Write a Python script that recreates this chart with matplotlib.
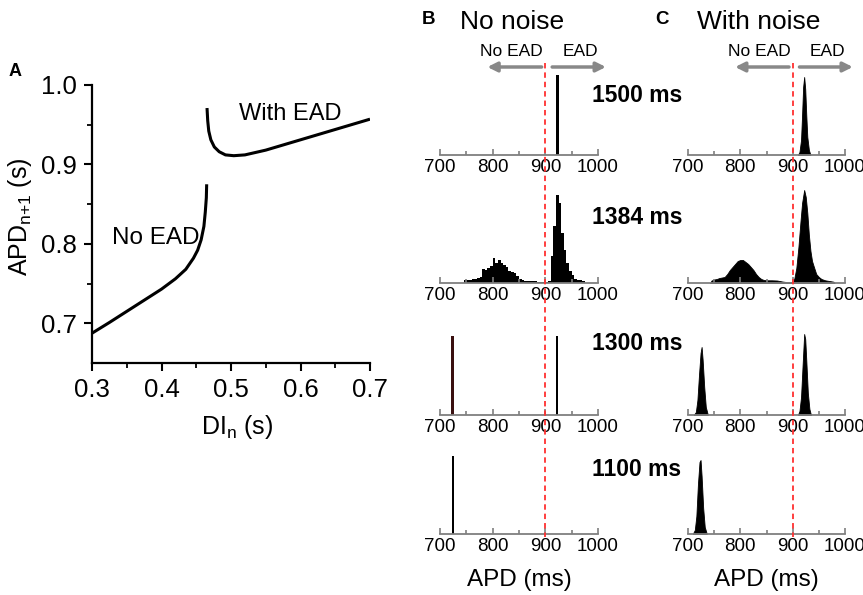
import numpy as np
import matplotlib
matplotlib.use("Agg")
import matplotlib.pyplot as plt

plt.rcParams['font.family'] = ['Liberation Sans', 'DejaVu Sans']
plt.rcParams['mathtext.default'] = 'regular'

W, H = 863, 595

# ---- panel A: APD restitution ----
di_no_ead = [0.300, 0.325, 0.350, 0.375, 0.400, 0.420, 0.435, 0.446, 0.452,
             0.457, 0.461, 0.463, 0.4645, 0.465]
apd_no_ead = [0.6875, 0.701, 0.715, 0.729, 0.743, 0.756, 0.768, 0.782, 0.792,
              0.805, 0.822, 0.840, 0.858, 0.875]
di_ead = [0.4655, 0.4665, 0.468, 0.471, 0.476, 0.483, 0.492, 0.504, 0.520,
          0.550, 0.600, 0.650, 0.700]
apd_ead = [0.971, 0.955, 0.942, 0.931, 0.922, 0.916, 0.912, 0.911, 0.912,
           0.918, 0.931, 0.944, 0.957]

# ---- panels B/C: APD histograms ----
pcl_labels = ['1500 ms', '1384 ms', '1300 ms', '1100 ms']

# B, no noise (spikes)
b1_x, b1_h = [923], [80]
b3_x, b3_h = [724, 922], [79, 79]
b4_x, b4_h = [725], [78]
# B, 1384 ms: 5 ms bins starting at 745
b2_start, b2_bin = 745, 5
b2_h = [3, 3.5, 3.5, 4, 4.5, 5, 6, 14, 13, 15, 17, 25, 20, 23, 20, 18, 16, 12,
        11, 10, 7, 4, 3, 2.5, 2.5, 2.5, 2, 2, 1.5, 1.5, 1, 1, 2, 27, 57, 88,
        80, 50, 33, 20, 12, 8, 4, 3, 3, 2]

# C, with noise
c1_x = [910, 913, 916, 918, 920, 922, 924, 926, 928, 931, 934]
c1_h = [0, 3, 15, 40, 68, 78, 66, 40, 18, 5, 0]
c2_x = [742, 745, 750, 755, 760, 765, 770, 775, 780, 785, 790, 795, 800, 805,
        810, 815, 820, 825, 830, 835, 840, 845, 850, 860, 870, 880, 890, 898,
        903, 907, 911, 915, 918, 922, 925, 928, 931, 934, 937, 940, 945, 950,
        955, 962, 970, 978, 980]
c2_h = [0, 2.5, 3.5, 4, 5, 5.5, 6, 9, 13, 16, 19, 22, 23, 23, 21, 19, 16, 13,
        9, 6, 4, 3, 2.7, 2.7, 2.5, 1.5, 0.8, 0.7, 4, 15, 36, 62, 80, 93, 86,
        70, 48, 32, 22, 17, 9, 6, 4, 2.7, 2, 1.3, 0]
c3_x = [711, 715, 718, 721, 724, 726, 728, 731, 734, 738,
        910, 913, 916, 919, 922, 924, 926, 929, 932, 935]
c3_h = [0, 3, 15, 40, 62, 68, 55, 28, 8, 0,
        0, 4, 18, 50, 81, 76, 55, 22, 6, 0]
c4_x = [709, 713, 716, 719, 722, 724, 726, 729, 732, 736]
c4_h = [0, 4, 18, 50, 72, 74, 58, 26, 7, 0]

apd_ticks = [700, 800, 900, 1000]
apd_minor = [750, 850, 950]

fig = plt.figure(figsize=(W / 100, H / 100), dpi=100)


def px_axes(left, top, right, bottom):
    return fig.add_axes([left / W, 1 - bottom / H, (right - left) / W, (bottom - top) / H])


def ftext(x, y, s, **kw):
    fig.text(x / W, 1 - y / H, s, **kw)


# panel A
axA = px_axes(92, 85, 370, 363)
axA.plot(di_no_ead, apd_no_ead, color='black', lw=2.2, solid_capstyle='butt')
axA.plot(di_ead, apd_ead, color='black', lw=2.2, solid_capstyle='butt')
axA.set_xlim(0.3, 0.7)
axA.set_ylim(0.65, 1.0)
axA.set_xticks([0.3, 0.4, 0.5, 0.6, 0.7])
axA.set_xticks([0.35, 0.45, 0.55, 0.65], minor=True)
axA.set_yticks([0.7, 0.8, 0.9, 1.0])
axA.set_yticks([0.75, 0.85, 0.95], minor=True)
axA.spines[['top', 'right']].set_visible(False)
for s in ['left', 'bottom']:
    axA.spines[s].set_linewidth(1.6)
axA.tick_params(which='major', direction='out', length=6, width=1.5, labelsize=18.5, pad=5)
axA.tick_params(which='minor', direction='out', length=3.5, width=1.3)
axA.text(0.329, 0.807, 'No EAD', fontsize=17.5, va='center', ha='left')
axA.text(0.585, 0.963, 'With EAD', fontsize=17, va='center', ha='center')
ftext(20, 217, 'APD$_{n{+}1}$ (s)', rotation=90, fontsize=18, ha='center', va='center')
ftext(237, 427, 'DI$_n$ (s)', fontsize=18, ha='center', va='center')
ftext(15, 72, 'A', fontsize=13, fontweight='bold', ha='center', va='center')

# panels B and C
cols = {'B': (440, 598), 'C': (688, 845)}
baselines = [155, 283, 415, 534]
label_y = [95, 217, 343, 470]


def hist_axes(col, row):
    left, right = cols[col]
    base = baselines[row]
    ax = px_axes(left, base - 95, right, base)
    ax.set_xlim(700, 1000)
    ax.set_ylim(0, 95)
    ax.set_xticks(apd_ticks)
    ax.set_xticks(apd_minor, minor=True)
    ax.set_yticks([])
    ax.spines[['top', 'right', 'left']].set_visible(False)
    ax.spines['bottom'].set_color('#7f7f7f')
    ax.spines['bottom'].set_linewidth(1.3)
    ax.tick_params(which='major', direction='in', length=4, width=1.2, color='#7f7f7f',
                   labelsize=13.5, pad=3)
    ax.tick_params(which='minor', direction='in', length=3, width=1.2, color='#7f7f7f')
    ax.patch.set_alpha(0)
    return ax


axB = [hist_axes('B', r) for r in range(4)]
axC = [hist_axes('C', r) for r in range(4)]

axB[0].bar(b1_x, b1_h, width=5, color='black')
b2_centers = b2_start + b2_bin / 2 + b2_bin * np.arange(len(b2_h))
axB[1].bar(b2_centers, b2_h, width=b2_bin, color='black', linewidth=0)
axB[2].bar(b3_x, b3_h, width=5, color=['#3a1010', 'black'])
axB[3].bar(b4_x, b4_h, width=5, color='black')

for ax, xs, hs in zip(axC, [c1_x, c2_x, c3_x, c4_x], [c1_h, c2_h, c3_h, c4_h]):
    xs = np.asarray(xs, float)
    hs = np.asarray(hs, float)
    # separate peaks at gaps so the fill does not bridge them
    breaks = np.where(np.diff(xs) > 40)[0] + 1
    for seg_x, seg_h in zip(np.split(xs, breaks), np.split(hs, breaks)):
        ax.fill_between(seg_x, 0, seg_h, color='black', linewidth=0.6, edgecolor='black')

for i, lab in enumerate(pcl_labels):
    ftext(637, label_y[i], lab, fontsize=16.5, fontweight='bold', ha='center', va='center')

# overlay per column: threshold line, arrows, titles
for col in ['B', 'C']:
    left, right = cols[col]
    ov = px_axes(left, 40, right, 540)
    ov.set_xlim(700, 1000)
    ov.set_ylim(540, 40)
    ov.axis('off')
    ov.vlines(900, 63, 537, color='#ff3030', linestyles=(0, (3, 2.2)), lw=1.3)
    ov.annotate('', xy=(790, 67), xytext=(893, 67),
                arrowprops=dict(arrowstyle='-|>', color='#888888', lw=2.5,
                                mutation_scale=14, shrinkA=0, shrinkB=0))
    ov.annotate('', xy=(1015, 67), xytext=(913, 67),
                arrowprops=dict(arrowstyle='-|>', color='#888888', lw=2.5,
                                mutation_scale=14, shrinkA=0, shrinkB=0),
                annotation_clip=False)
    ov.text(836, 51, 'No EAD', fontsize=12.5, ha='center', va='center')
    ov.text(967, 51, 'EAD', fontsize=12.5, ha='center', va='center')
    ftext((left + right) / 2, 580, 'APD (ms)', fontsize=17.5, ha='center', va='center')

ftext(428, 20, 'B', fontsize=13.5, fontweight='bold', ha='center', va='center')
ftext(460, 22, 'No noise', fontsize=19, ha='left', va='center')
ftext(662, 20, 'C', fontsize=13.5, fontweight='bold', ha='center', va='center')
ftext(697, 22, 'With noise', fontsize=19, ha='left', va='center')

fig.savefig('out.png', dpi=100)
